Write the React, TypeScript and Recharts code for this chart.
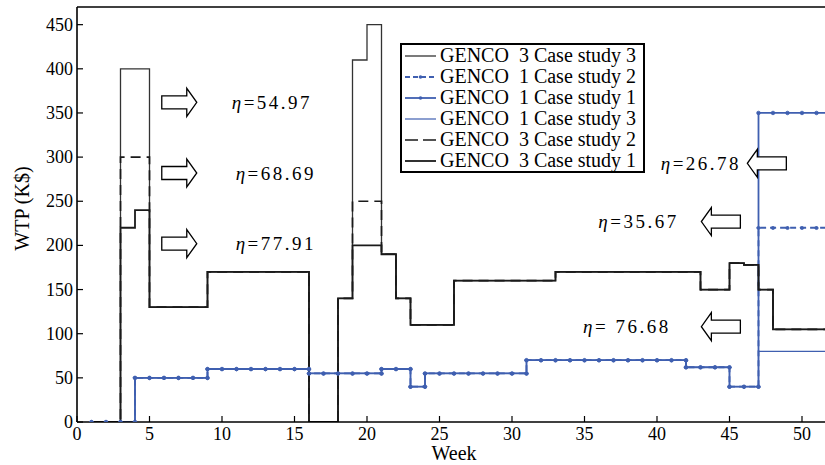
import { LineChart, Line, XAxis, YAxis, ReferenceDot, Legend } from 'recharts'

// weekly values (each value holds until the next week)
const weeks = [1, 2, 3, 4, 5, 6, 7, 8, 9, 10, 11, 12, 13, 14, 15, 16, 17, 18, 19, 20, 21, 22, 23, 24, 25, 26,
  27, 28, 29, 30, 31, 32, 33, 34, 35, 36, 37, 38, 39, 40, 41, 42, 43, 44, 45, 46, 47, 48, 49, 50, 51, 52]

const genco3Case1 = [0, 0, 220, 240, 130, 130, 130, 130, 170, 170, 170, 170, 170, 170, 170, 0, 0, 140, 200, 200, 190, 140, 110, 110, 110, 160,
  160, 160, 160, 160, 160, 160, 170, 170, 170, 170, 170, 170, 170, 170, 170, 170, 150, 150, 180, 178, 150, 105, 105, 105, 105, 105]
const genco3Case2 = [0, 0, 300, 300, 130, 130, 130, 130, 170, 170, 170, 170, 170, 170, 170, 0, 0, 140, 250, 250, 190, 140, 110, 110, 110, 160,
  160, 160, 160, 160, 160, 160, 170, 170, 170, 170, 170, 170, 170, 170, 170, 170, 150, 150, 180, 178, 150, 105, 105, 105, 105, 105]
const genco3Case3 = [0, 0, 400, 400, 130, 130, 130, 130, 170, 170, 170, 170, 170, 170, 170, 0, 0, 140, 410, 450, 190, 140, 110, 110, 110, 160,
  160, 160, 160, 160, 160, 160, 170, 170, 170, 170, 170, 170, 170, 170, 170, 170, 150, 150, 180, 178, 150, 105, 105, 105, 105, 105]

const genco1Case1 = [0, 0, 0, 50, 50, 50, 50, 50, 60, 60, 60, 60, 60, 60, 60, 55, 55, 55, 55, 55, 60, 60, 40, 55, 55, 55,
  55, 55, 55, 55, 70, 70, 70, 70, 70, 70, 70, 70, 70, 70, 70, 62, 62, 62, 40, 40, 350, 350, 350, 350, 350, 350]
const genco1Case2 = [0, 0, 0, 50, 50, 50, 50, 50, 60, 60, 60, 60, 60, 60, 60, 55, 55, 55, 55, 55, 60, 60, 40, 55, 55, 55,
  55, 55, 55, 55, 70, 70, 70, 70, 70, 70, 70, 70, 70, 70, 70, 62, 62, 62, 40, 40, 220, 220, 220, 220, 220, 220]
const genco1Case3 = [0, 0, 0, 50, 50, 50, 50, 50, 60, 60, 60, 60, 60, 60, 60, 55, 55, 55, 55, 55, 60, 60, 40, 55, 55, 55,
  55, 55, 55, 55, 70, 70, 70, 70, 70, 70, 70, 70, 70, 70, 70, 62, 62, 62, 40, 40, 80, 80, 80, 80, 80, 80]

const xTicks = [0, 5, 10, 15, 20, 25, 30, 35, 40, 45, 50]
const yTicks = [0, 50, 100, 150, 200, 250, 300, 350, 400, 450]

// arrows: tip position in data units
const arrows = [
  { week: 8.26, value: 362, dir: 'right' },
  { week: 8.26, value: 282, dir: 'right' },
  { week: 8.26, value: 202, dir: 'right' },
  { week: 46.23, value: 293, dir: 'left' },
  { week: 43.06, value: 227, dir: 'left' },
  { week: 43.06, value: 108, dir: 'left' },
]
const etaLabels = [
  { week: 10.67, value: 362, text: '=54.97', anchor: 'start' },
  { week: 10.94, value: 282, text: '=68.69', anchor: 'start' },
  { week: 10.94, value: 202, text: '=77.91', anchor: 'start' },
  { week: 45.8, value: 293, text: '=26.78', anchor: 'end' },
  { week: 41.5, value: 227, text: '=35.67', anchor: 'end' },
  { week: 40.95, value: 108, text: '= 76.68', anchor: 'end' },
]

const BLUE = '#3f5fb0'
const INK = '#1a1a1a'
const FONT = '"Liberation Serif", "Times New Roman", serif'

function stairs(values: number[]) {
  const pts: { week: number; value: number }[] = []
  values.forEach((v, i) => {
    if (i > 0 && v !== values[i - 1]) pts.push({ week: weeks[i], value: values[i - 1] })
    pts.push({ week: weeks[i], value: v })
  })
  return pts
}

const series = [
  { key: 'g1c3', name: 'GENCO  1 Case study 3', values: genco1Case3, color: BLUE, width: 1.2, dash: undefined, dot: false },
  { key: 'g1c2', name: 'GENCO  1 Case study 2', values: genco1Case2, color: BLUE, width: 1.8, dash: '6 4', dot: true },
  { key: 'g1c1', name: 'GENCO  1 Case study 1', values: genco1Case1, color: BLUE, width: 1.8, dash: undefined, dot: true },
  { key: 'g3c3', name: 'GENCO  3 Case study 3', values: genco3Case3, color: '#333', width: 1.3, dash: undefined, dot: false },
  { key: 'g3c2', name: 'GENCO  3 Case study 2', values: genco3Case2, color: INK, width: 1.7, dash: '10 6', dot: false },
  { key: 'g3c1', name: 'GENCO  3 Case study 1', values: genco3Case1, color: INK, width: 1.8, dash: undefined, dot: false },
]
const legendOrder = ['g3c3', 'g1c2', 'g1c1', 'g1c3', 'g3c2', 'g3c1']

const BottomTick = (p: any) => (
  <g>
    <line x1={p.x} y1={p.y} x2={p.x} y2={p.y - 6} stroke="#000" strokeWidth={1.2} />
    <text x={p.x} y={p.y + 18} textAnchor="middle" fontFamily={FONT} fontSize={18} fill="#000">{p.payload.value}</text>
  </g>
)
const TopTick = (p: any) => <line x1={p.x} y1={p.y} x2={p.x} y2={p.y + 6} stroke="#000" strokeWidth={1.2} />
const LeftTick = (p: any) => (
  <g>
    <line x1={p.x} y1={p.y} x2={p.x + 6} y2={p.y} stroke="#000" strokeWidth={1.2} />
    <text x={p.x - 4} y={p.y + 6} textAnchor="end" fontFamily={FONT} fontSize={18} fill="#000">{p.payload.value}</text>
  </g>
)
const RightTick = (p: any) => <line x1={p.x} y1={p.y} x2={p.x - 6} y2={p.y} stroke="#000" strokeWidth={1.2} />

function Arrow({ cx, cy, dir }: { cx: number; cy: number; dir: string }) {
  const s = dir === 'right' ? -1 : 1
  const len = dir === 'right' ? 35 : 39
  const pts = [
    [cx + s * len, cy - 6.5], [cx + s * 10, cy - 6.5], [cx + s * 10, cy - 14], [cx, cy],
    [cx + s * 10, cy + 14], [cx + s * 10, cy + 6.5], [cx + s * len, cy + 6.5],
  ].map(q => q.join(',')).join(' ')
  return <polygon points={pts} fill="#fff" stroke="#000" strokeWidth={1.3} />
}

function LegendBox() {
  return (
    <div style={{ border: '2px solid #000', background: '#fff', width: 241, fontFamily: FONT, fontSize: 20, lineHeight: '21px' }}>
      {legendOrder.map(k => {
        const s = series.find(x => x.key === k)!
        return (
          <div key={k} style={{ display: 'flex', height: 21, whiteSpace: 'pre', color: '#000' }}>
            <svg width={38} height={21} style={{ flex: 'none' }}>
              <line x1={3} y1={11} x2={34} y2={11} stroke={s.color} strokeWidth={s.width}
                strokeDasharray={s.dash ? (s.color === BLUE ? '5 3' : '13 5') : undefined} />
              {s.dot && <circle cx={18.5} cy={11} r={1.8} fill={s.color} />}
            </svg>
            <span>{s.name}</span>
          </div>
        )
      })}
    </div>
  )
}

export default function App() {
  return (
    <div style={{ position: 'absolute', left: 0, top: 0, width: 825, height: 465, overflow: 'hidden', background: '#fff' }}>
      <LineChart width={841} height={465} margin={{ top: 6, right: 0, bottom: 0, left: 0 }}>
        <XAxis dataKey="week" type="number" domain={[0, 52]} ticks={xTicks} allowDataOverflow
          height={43} tickSize={0} tickMargin={0} tick={BottomTick}
          axisLine={{ stroke: '#000', strokeWidth: 1.6 }}
          label={{ content: (p: any) => (
            <text x={p.viewBox.x + p.viewBox.width / 2} y={p.viewBox.y + 38} textAnchor="middle"
              fontFamily={FONT} fontSize={20} fill="#000">Week</text>
          ) }} />
        <XAxis xAxisId="top" orientation="top" type="number" domain={[0, 52]} ticks={xTicks} allowDataOverflow
          height={1} tickSize={0} tickMargin={0} tick={TopTick} axisLine={{ stroke: '#000', strokeWidth: 1.6 }} />
        <YAxis type="number" domain={[0, 470]} ticks={yTicks} allowDataOverflow width={77}
          tickSize={0} tickMargin={0} tick={LeftTick} axisLine={{ stroke: '#000', strokeWidth: 1.6 }}
          label={{ content: (p: any) => {
            const cy = p.viewBox.y + p.viewBox.height / 2 - 6
            return (
              <text x={29} y={cy} transform={`rotate(-90 29 ${cy})`} textAnchor="middle"
                fontFamily={FONT} fontSize={20} fill="#000">WTP (K$)</text>
            )
          } }} />
        <YAxis yAxisId="right" orientation="right" type="number" domain={[0, 470]} ticks={yTicks} allowDataOverflow
          width={10} tickSize={0} tickMargin={0} tick={RightTick} axisLine={{ stroke: '#000', strokeWidth: 1.6 }} />
        {series.map(s => (
          <Line key={s.key} data={stairs(s.values)} dataKey="value" name={s.name} type="linear"
            stroke={s.color} strokeWidth={s.width} strokeDasharray={s.dash}
            dot={s.dot ? { r: 1.8, fill: s.color, stroke: s.color, strokeWidth: 0.8 } : false}
            activeDot={false} isAnimationActive={false} />
        ))}
        {arrows.map((a, i) => (
          <ReferenceDot key={'a' + i} x={a.week} y={a.value} r={0}
            shape={(p: any) => <Arrow cx={p.cx} cy={p.cy} dir={a.dir} />} />
        ))}
        {etaLabels.map((t, i) => (
          <ReferenceDot key={'t' + i} x={t.week} y={t.value} r={0}
            shape={(p: any) => (
              <text x={p.cx} y={p.cy} dy="0.35em" textAnchor={t.anchor as any} fontFamily={FONT}
                fontSize={19} letterSpacing={2.5} fill="#000">
                <tspan fontStyle="italic">η</tspan>{t.text}
              </text>
            )} />
        ))}
        <Legend layout="vertical" align="center" verticalAlign="middle" content={() => <LegendBox />}
          wrapperStyle={{ left: 400, top: 43, width: 'auto', height: 'auto' }} />
      </LineChart>
    </div>
  )
}
